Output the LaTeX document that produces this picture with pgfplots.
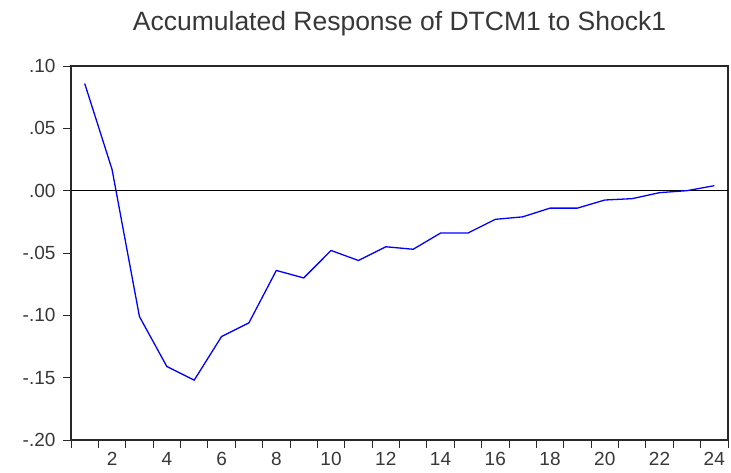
\documentclass[border=0pt]{standalone}
\usepackage{pgfplots}
\pgfplotsset{compat=1.18}
\usepackage{fontspec}
\setmainfont{Liberation Sans}
\definecolor{axisgray}{RGB}{40,40,40}
\definecolor{labgray}{RGB}{55,55,55}
\begin{document}
\begin{tikzpicture}
\useasboundingbox (-71pt,-33pt) rectangle (660pt,440pt);
\begin{axis}[
  at={(0,0)}, anchor=south west,
  scale only axis,
  width=657pt, height=374pt,
  xmin=0.5, xmax=24.5,
  ymin=-0.20, ymax=0.10,
  axis line style={axisgray, line width=1.2pt},
  tick style={axisgray, line width=0.9pt},
  tick align=outside,
  major tick length=8pt,
  xtick={0.5,1.5,...,24.5},
  xticklabels={},
  extra x ticks={2,4,...,24},
  extra x tick labels={2,4,6,8,10,12,14,16,18,20,22,24},
  extra x tick style={major tick length=0pt, xticklabel style={yshift=-9pt}},
  ytick={-0.20,-0.15,-0.10,-0.05,0,0.05,0.10},
  yticklabels={-.20,-.15,-.10,-.05,.00,.05,.10},
  xtick pos=bottom, ytick pos=left,
  ticklabel style={font=\fontsize{19}{19}\selectfont, text=labgray},
  yticklabel style={xshift=-4pt},
  title={Accumulated Response of DTCM1 to Shock1},
  title style={font=\fontsize{26.5}{26.5}\selectfont, text=labgray, yshift=20pt},
  clip=false,
]
\addplot[black, line width=0.9pt] coordinates {(0.5,0) (24.5,0)};
\addplot[blue, line width=1.3pt, mark=none] coordinates {
  (1, 0.086)
  (2, 0.017)
  (3, -0.101)
  (4, -0.141)
  (5, -0.152)
  (6, -0.117)
  (7, -0.106)
  (8, -0.064)
  (9, -0.070)
  (10, -0.048)
  (11, -0.056)
  (12, -0.045)
  (13, -0.047)
  (14, -0.034)
  (15, -0.034)
  (16, -0.023)
  (17, -0.021)
  (18, -0.014)
  (19, -0.014)
  (20, -0.0075)
  (21, -0.0064)
  (22, -0.0016)
  (23, 0.0000)
  (24, 0.0040)
};
\end{axis}
\end{tikzpicture}
\end{document}
